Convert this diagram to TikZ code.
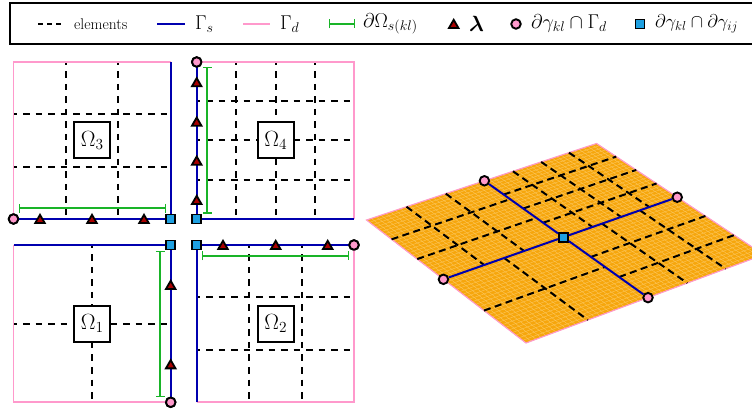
\RequirePackage{fix-cm}
\documentclass[tikz,border=0pt]{standalone}
\usepackage{amsmath}
\usetikzlibrary{shapes.geometric,arrows.meta}
\definecolor{cpink}{RGB}{255,153,204}
\definecolor{cblue}{RGB}{0,0,175}
\definecolor{cgreen}{RGB}{25,180,40}
\definecolor{ccyan}{RGB}{30,160,225}
\definecolor{cred}{RGB}{170,0,0}
\definecolor{corange}{RGB}{246,166,12}
\definecolor{cmesh}{RGB}{252,198,90}
\tikzset{
  x=1pt,y=-1pt,
  bl/.style={draw=cblue,line width=2pt},
  pk/.style={draw=cpink,line width=1.9pt},
  dsh/.style={draw=black,line width=2pt,dash pattern=on 6.5pt off 6pt,dash phase=3pt},
  dshp/.style={draw=black,line width=2pt,dash pattern=on 7pt off 4.5pt},
  grn/.style={draw=cgreen,line width=2pt,{Bar[width=9pt,line width=1.2pt]}-{Bar[width=9pt,line width=1.2pt]}},
  circ/.style={circle,draw=black,fill=cpink,line width=1.9pt,minimum size=9.5pt,inner sep=0pt},
  sqr/.style={rectangle,draw=black,fill=ccyan,line width=1.9pt,minimum size=9pt,inner sep=0pt},
  tri/.style={regular polygon,regular polygon sides=3,draw=black,fill=cred,line width=1.8pt,minimum size=11pt,inner sep=0pt,yshift=-1.3pt},
  dom/.style={rectangle,draw=black,fill=white,line width=2pt,minimum size=36pt,inner sep=0pt,font=\fontsize{22}{26}\selectfont},
  leg/.style={anchor=west,inner sep=0pt,font=\fontsize{20}{24}\selectfont},
}
\newcommand\hmap[3]{%
  \pgfmathsetmacro\hd{1+.0556*(#1)+.0734*(#2)}%
  \pgfmathsetmacro\hx{(280.06*(#1)-132.6*(#2)+526)/\hd}%
  \pgfmathsetmacro\hy{(-74.14*(#1)-106.85*(#2)+343)/\hd}%
  \coordinate (#3) at (\hx,\hy);}
\begin{document}
\begin{tikzpicture}
\clip (0,0) rectangle (752,411);
\fill[white] (0,0) rectangle (752,411);
% legend
\draw[black,line width=2.2pt] (10,3) rectangle (760,44);
\coordinate (l1a) at (38,24); \coordinate (l1b) at (64,24);
\draw[draw=black,line width=2pt,dash pattern=on 5pt off 4pt] (l1a) -- (l1b);
\node[anchor=west,inner sep=0pt,font=\fontsize{15.5}{18}\selectfont] (t1) at (74,24) {elements};
\coordinate (l2a) at (157,24); \coordinate (l2b) at (185,24);
\draw[bl] (l2a) -- (l2b);
\node[leg] (t2) at (195,24) {$\Gamma_s$};
\coordinate (l3a) at (243,24); \coordinate (l3b) at (270,24);
\draw[pk] (l3a) -- (l3b);
\node[leg] (t3) at (280,24) {$\Gamma_d$};
\coordinate (l4a) at (329,24); \coordinate (l4b) at (355,24);
\draw[grn] (l4a) -- (l4b);
\node[leg] (t4) at (363,24) {$\partial\Omega_{s(kl)}$};
\node[tri] (m5) at (453.7,24) {};
\node[leg,font=\fontsize{22}{26}\selectfont] (t5) at (469,24) {$\boldsymbol{\lambda}$};
\node[circ] (m6) at (516,24) {};
\node[leg] (t6) at (531,24) {$\partial\gamma_{kl}\cap\Gamma_d$};
\node[sqr] (m7) at (640,24) {};
\node[leg,font=\fontsize{18.5}{22}\selectfont] (t7) at (655,24) {$\partial\gamma_{kl}\cap\partial\gamma_{ij}$};

% Omega 3
\foreach \x in {66.3,118.3} \draw[dsh] (\x,62) -- (\x,219);
\foreach \y in {114.3,166.7} \draw[dsh] (13.5,\y) -- (170.7,\y);
\coordinate (a3) at (13.5,62); \coordinate (b3) at (170.7,62);
\node[circ] (c3) at (13.5,219) {};
\node[sqr] (s3) at (170.7,219) {};
\draw[pk] (c3.center) -- (a3) -- (b3);
\draw[bl] (b3) -- (s3.center) -- (c3.center);
\node[circ] at (c3) {}; \node[sqr] at (s3) {};
\coordinate (g3a) at (19,208.3); \coordinate (g3b) at (165.7,208.3);
\draw[grn] (g3a) -- (g3b);
\foreach \x in {40,92,144} \node[tri] at (\x,219) {};
\node[dom] (o3) at (92.3,140.5) {$\Omega_3$};

% Omega 4
\foreach \x in {236.3,275.5,314.7} \draw[dsh] (\x,62) -- (\x,219);
\foreach \y in {101.3,140.3,179.7} \draw[dsh] (196.7,\y) -- (354,\y);
\coordinate (a4) at (354,62); \coordinate (b4) at (354,219);
\node[circ] (c4) at (196.7,62) {};
\node[sqr] (s4) at (196.7,219) {};
\draw[pk] (c4.center) -- (a4) -- (b4);
\draw[bl] (b4) -- (s4.center) -- (c4.center);
\node[circ] at (c4) {}; \node[sqr] at (s4) {};
\coordinate (g4a) at (207.3,67.3); \coordinate (g4b) at (207.3,213.7);
\draw[grn] (g4a) -- (g4b);
\foreach \y in {82.3,121.7,160.7,200} \node[tri] at (196.7,\y) {};
\node[dom] (o4) at (275.7,140.5) {$\Omega_4$};

% Omega 1
\draw[dsh] (92.3,245) -- (92.3,402.3);
\draw[dsh] (13.5,323.7) -- (170.7,323.7);
\coordinate (a1) at (13.5,245); \coordinate (b1) at (13.5,402.3);
\node[sqr] (s1) at (170.7,245) {};
\node[circ] (c1) at (170.7,402.3) {};
\draw[pk] (c1.center) -- (b1) -- (a1);
\draw[bl] (a1) -- (s1.center) -- (c1.center);
\node[sqr] at (s1) {}; \node[circ] at (c1) {};
\coordinate (g1a) at (160.3,250.7); \coordinate (g1b) at (160.3,396.7);
\draw[grn] (g1a) -- (g1b);
\foreach \y in {285,364.3} \node[tri] at (170.7,\y) {};
\node[dom] (o1) at (92.3,323.8) {$\Omega_1$};

% Omega 2
\foreach \x in {249.3,301.7} \draw[dsh] (\x,245) -- (\x,402.3);
\foreach \y in {297.3,349.7} \draw[dsh] (196.7,\y) -- (354,\y);
\coordinate (a2) at (196.7,402.3); \coordinate (b2) at (354,402.3);
\node[sqr] (s2) at (196.7,245) {};
\node[circ] (c2) at (354,245) {};
\draw[pk] (c2.center) -- (b2) -- (a2);
\draw[bl] (a2) -- (s2.center) -- (c2.center);
\node[sqr] at (s2) {}; \node[circ] at (c2) {};
\coordinate (g2a) at (202,255.7); \coordinate (g2b) at (349,255.7);
\draw[grn] (g2a) -- (g2b);
\foreach \x in {223,275.7,327.7} \node[tri] at (\x,245) {};
\node[dom] (o2) at (275.7,323.8) {$\Omega_2$};

% plate
\hmap{0}{0}{q00}\hmap{1}{0}{q10}\hmap{1}{1}{q11}\hmap{0}{1}{q01}
\fill[corange] (q00) -- (q10) -- (q11) -- (q01) -- cycle;
\foreach \i in {0,...,50}{
  \pgfmathsetmacro\tt{\i/50}
  \hmap{\tt}{0}{ma}\hmap{\tt}{1}{mb}
  \draw[cmesh,line width=.4pt] (ma) -- (mb);
  \hmap{0}{\tt}{ma}\hmap{1}{\tt}{mb}
  \draw[cmesh,line width=.4pt] (ma) -- (mb);
}
\draw[cpink,line width=1.1pt] (q00) -- (q10) -- (q11) -- (q01) -- cycle;
% lines of constant u: u / v0 / v1
\foreach \u/\va/\vb in {.16667/.5/1,.33333/.5/1,.625/.5/1,.75/.5/1,.875/.5/1,.25/0/.5,.66667/0/.5,.83333/0/.5}{
  \hmap{\u}{\va}{da}\hmap{\u}{\vb}{db}
  \draw[dshp] (db) -- (da);
}
% lines of constant v: v / u0 / u1
\foreach \v/\ua/\ub in {.66667/0/.5,.83333/0/.5,.625/.5/1,.75/.5/1,.875/.5/1,.25/0/.5,.16667/.5/1,.33333/.5/1}{
  \hmap{\ua}{\v}{da}\hmap{\ub}{\v}{db}
  \draw[dshp] (da) -- (db);
}
\hmap{.5}{.5}{pc}\hmap{.5}{1}{pt}\hmap{1}{.5}{pr}\hmap{.5}{0}{pb}\hmap{0}{.5}{pl}
\node[circ] (nt) at (pt) {};
\node[circ] (nr) at (pr) {};
\node[circ] (nb) at (pb) {};
\node[circ] (nl) at (pl) {};
\node[sqr] (nc) at (pc) {};
\draw[bl] (nt) -- (nc); \draw[bl] (nr) -- (nc); \draw[bl] (nb) -- (nc); \draw[bl] (nl) -- (nc);
\end{tikzpicture}
\end{document}
